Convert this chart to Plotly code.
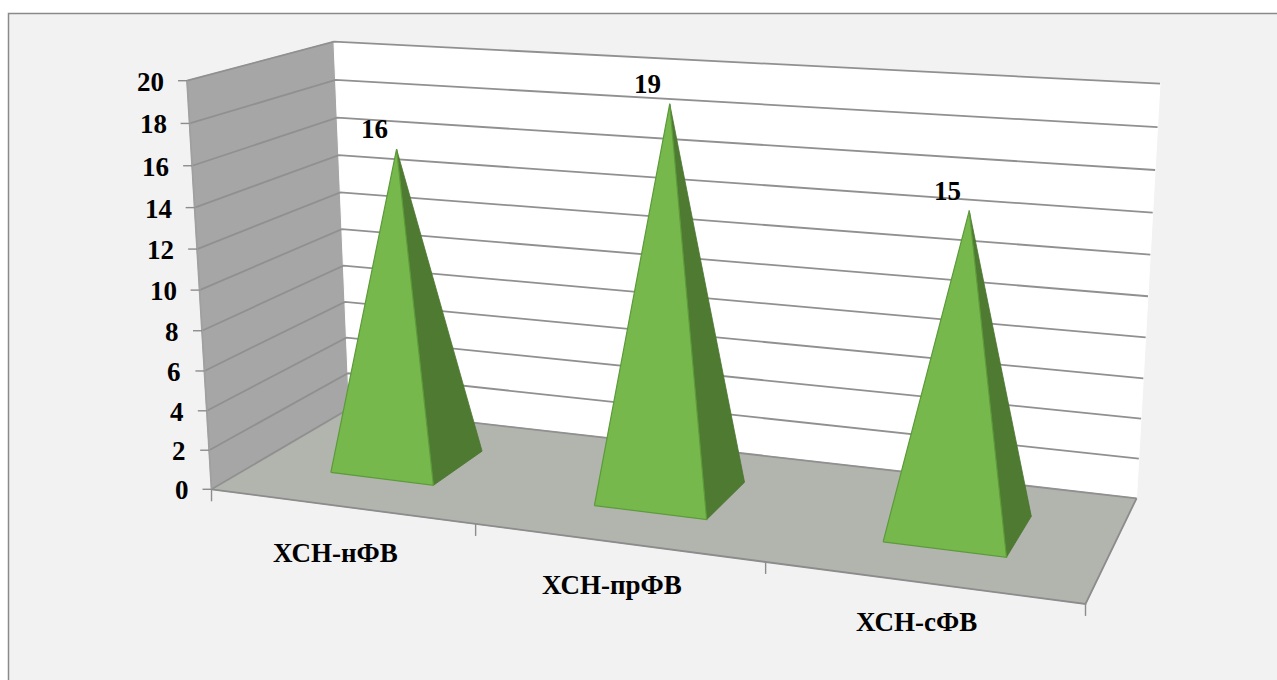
import numpy as np
import plotly.graph_objects as go

# ---- data ----
categories = ["ХСН-нФВ", "ХСН-прФВ", "ХСН-сФВ"]
values = [16, 19, 15]
axis_ticks = list(range(0, 21, 2))

# ---- 3D view: world (category, depth, value) -> screen pixel ----
# calibration of the view, fitted once from the frame corners
WORLD = [(0, 0, 0), (3, 0, 0), (3, 1, 0), (0, 1, 0), (0, 0, 20), (0, 1, 20), (3, 1, 20)]
SCREEN = [(212, 489), (1085, 605), (1137, 497), (349, 409), (187, 80), (334, 42), (1160, 84)]


def fit_view(world, screen):
    rows = []
    for (X, Y, Z), (u, v) in zip(world, screen):
        rows.append([X, Y, Z, 1, 0, 0, 0, 0, -u * X, -u * Y, -u * Z, -u])
        rows.append([0, 0, 0, 0, X, Y, Z, 1, -v * X, -v * Y, -v * Z, -v])
    return np.linalg.svd(np.array(rows, float))[2][-1].reshape(3, 4)


VIEW = fit_view(WORLD, SCREEN)


def project(c, d, z):
    p = VIEW @ np.array([c, d, z, 1.0])
    return float(p[0] / p[2]), float(p[1] / p[2])


def path(points):
    xy = [project(*p) for p in points]
    return [q[0] for q in xy], [q[1] for q in xy]


fig = go.Figure()


def poly(points, fill, line=None, width=1.0):
    x, y = path(points)
    fig.add_trace(go.Scatter(
        x=x, y=y, mode="lines", fill="toself", fillcolor=fill,
        line=dict(color=line or fill, width=width), hoverinfo="skip", showlegend=False))


def seg(points, color="#909090", width=1.8):
    x, y = path(points)
    fig.add_trace(go.Scatter(
        x=x, y=y, mode="lines", line=dict(color=color, width=width),
        hoverinfo="skip", showlegend=False))


N = len(categories)
ZMAX = axis_ticks[-1]

# walls and floor
poly([(0, 0, 0), (0, 1, 0), (0, 1, ZMAX), (0, 0, ZMAX), (0, 0, 0)], "#a6a6a6")
poly([(0, 1, 0), (N, 1, 0), (N, 1, ZMAX), (0, 1, ZMAX), (0, 1, 0)], "#ffffff")
poly([(0, 0, 0), (N, 0, 0), (N, 1, 0), (0, 1, 0), (0, 0, 0)], "#b1b5ae")

# gridlines along the two walls
for t in axis_ticks:
    seg([(0, 0, t), (0, 1, t), (N, 1, t)])
# frame edges
seg([(0, 0, 0), (0, 0, ZMAX)], "#a0a0a0")
seg([(0, 0, 0), (N, 0, 0), (N, 1, 0)], "#8c8c8c")

# value-axis tick marks + labels
TICK_LEN = 9
annotations = []
FONT = dict(family="Liberation Serif", size=27, color="#000000", weight="bold")
for t in axis_ticks:
    x, y = project(0, 0, t)
    fig.add_trace(go.Scatter(x=[x - TICK_LEN, x], y=[y, y], mode="lines",
                             line=dict(color="#8c8c8c", width=1.4),
                             hoverinfo="skip", showlegend=False))
    annotations.append(dict(x=x - TICK_LEN - 12, y=y + 1, text=str(t), showarrow=False,
                            xanchor="right", yanchor="middle", font=FONT))

# category-axis tick marks
for c in range(N + 1):
    x, y = project(c, 0, 0)
    fig.add_trace(go.Scatter(x=[x, x], y=[y, y + 12], mode="lines",
                             line=dict(color="#8c8c8c", width=1.4),
                             hoverinfo="skip", showlegend=False))

# pyramids
HALF_W = 0.2
D0, D1 = 0.3, 0.7
for i, v in enumerate(values):
    c = i + 0.5
    fl, fr = (c - HALF_W, D0, 0), (c + HALF_W, D0, 0)
    br = (c + HALF_W, D1, 0)
    apex = (c, 0.5, v)
    poly([fr, br, apex, fr], "#4f7a31", "#4a7530", 0.8)
    poly([fl, fr, apex, fl], "#76b84c", "#5c9a3a", 1.2)
    ax, ay = project(*apex)
    annotations.append(dict(x=ax - 22, y=ay - 20, text=str(v), showarrow=False,
                            xanchor="center", yanchor="middle", font=FONT))

# category labels under the front edge
LABEL_DY = [47, 43, 40]
for i, name in enumerate(categories):
    x, y = project(i + 0.5, 0, 0)
    annotations.append(dict(x=x - 5, y=y + LABEL_DY[i], text=name, showarrow=False,
                            xanchor="center", yanchor="middle", font=FONT))

fig.update_layout(
    width=1277, height=680, margin=dict(l=0, r=0, t=0, b=0),
    paper_bgcolor="#ffffff", plot_bgcolor="rgba(0,0,0,0)", showlegend=False,
    xaxis=dict(range=[0, 1277], visible=False, fixedrange=True),
    yaxis=dict(range=[680, 0], visible=False, fixedrange=True),
    annotations=annotations,
    shapes=[dict(type="rect", xref="x", yref="y", x0=8.5, y0=13.5, x1=1290, y1=700,
                 fillcolor="#f2f2f2", line=dict(color="#8a8a8a", width=1.5), layer="below")],
)

fig.write_html("out.html", config=dict(displayModeBar=False),
               post_script="document.body.style.margin='0';document.documentElement.style.overflow='hidden';")
